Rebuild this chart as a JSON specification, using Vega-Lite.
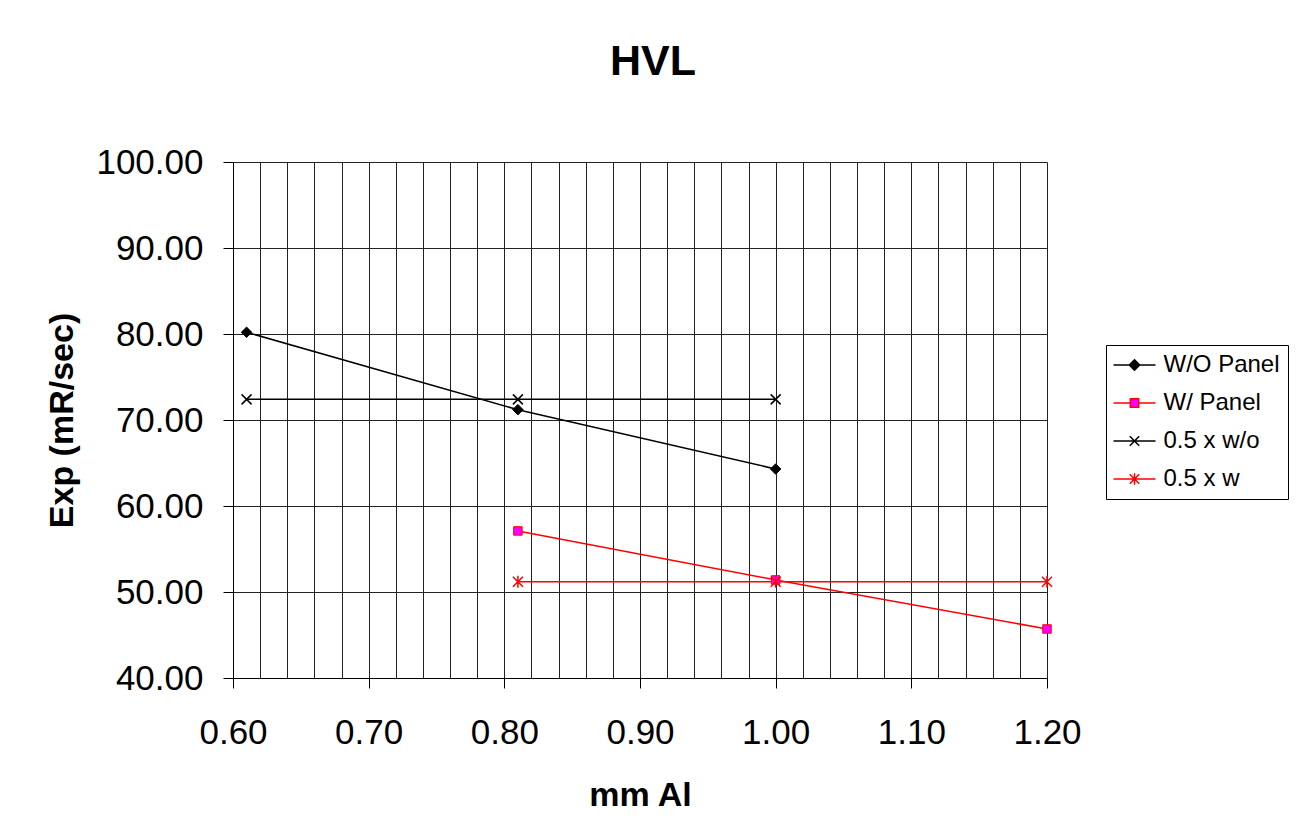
{
  "$schema": "https://vega.github.io/schema/vega-lite/v6.json",
  "autosize": "none",
  "width": 814,
  "height": 516,
  "padding": {"left": 233, "top": 162, "right": 250, "bottom": 158},
  "background": "white",
  "title": {"text": "HVL", "font": "Liberation Sans", "fontSize": 43, "fontWeight": "bold", "color": "black", "anchor": "middle", "frame": "group", "dx": 13, "baseline": "alphabetic", "offset": 27},
  "data": {"values": [
    {"series": "W/O Panel", "x": 0.61, "y": 80.2},
    {"series": "W/O Panel", "x": 0.81, "y": 71.2},
    {"series": "W/O Panel", "x": 1.0, "y": 64.3},
    {"series": "W/ Panel", "x": 0.81, "y": 57.1},
    {"series": "W/ Panel", "x": 1.0, "y": 51.4},
    {"series": "W/ Panel", "x": 1.2, "y": 45.7},
    {"series": "0.5 x w/o", "x": 0.61, "y": 72.4},
    {"series": "0.5 x w/o", "x": 0.81, "y": 72.4},
    {"series": "0.5 x w/o", "x": 1.0, "y": 72.4},
    {"series": "0.5 x w", "x": 0.81, "y": 51.2},
    {"series": "0.5 x w", "x": 1.0, "y": 51.2},
    {"series": "0.5 x w", "x": 1.2, "y": 51.2}
  ]},
  "encoding": {
    "x": {"field": "x", "type": "quantitative",
      "scale": {"domain": [0.6, 1.2], "nice": false, "zero": false},
      "axis": {
        "values": [0.6,0.62,0.64,0.66,0.68,0.7,0.72,0.74,0.76,0.78,0.8,0.82,0.84,0.86,0.88,0.9,0.92,0.94,0.96,0.98,1.0,1.02,1.04,1.06,1.08,1.1,1.12,1.14,1.16,1.18,1.2],
        "labelExpr": "abs(datum.value*10 - round(datum.value*10)) < 0.001 ? format(datum.value, '.2f') : ''",
        "tickOpacity": {"condition": {"test": "abs(datum.value*10 - round(datum.value*10)) < 0.001", "value": 1}, "value": 0},
        "title": "mm Al", "titleY": 127, "titleBaseline": "alphabetic",
        "labelPadding": 27, "labelFlush": false, "labelOverlap": false
      }},
    "y": {"field": "y", "type": "quantitative",
      "scale": {"domain": [40, 100], "nice": false, "zero": false},
      "axis": {"values": [40,50,60,70,80,90,100], "format": ".2f", "title": "Exp (mR/sec)",
        "titleX": -161, "titleBaseline": "alphabetic", "titleAngle": -90, "labelPadding": 20}}
  },
  "layer": [
    {
      "mark": {"type": "line", "strokeWidth": 1.5},
      "encoding": {
        "color": {"field": "series", "type": "nominal",
          "scale": {"domain": ["W/O Panel", "W/ Panel", "0.5 x w/o", "0.5 x w"], "range": ["black", "red", "black", "red"]},
          "legend": {
            "title": null, "orient": "none", "legendX": 873, "legendY": 183,
            "strokeColor": "black", "fillColor": "white", "padding": 8, "cornerRadius": 0,
            "labelFont": "Liberation Sans", "labelFontSize": 24, "labelColor": "black",
            "labelOffset": 17, "symbolOffset": 8.5, "rowPadding": 14, "symbolSize": 441, "symbolStrokeWidth": 1.5,
            "encode": {"symbols": {"update": {
              "shape": {"signal": "datum.value==='W/O Panel' ? 'M-2,0H-0.5M0.5,0H2M-0.5,0L0,-0.5L0.5,0L0,0.5Z' : datum.value==='W/ Panel' ? 'M-2,0H-0.4M0.4,0H2M-0.4,-0.4H0.4V0.4H-0.4Z' : datum.value==='0.5 x w/o' ? 'M-2,0H2M-0.45,-0.45L0.45,0.45M-0.45,0.45L0.45,-0.45' : 'M-2,0H2M-0.45,-0.45L0.45,0.45M-0.45,0.45L0.45,-0.45M0,-0.55V0.55'"},
              "fill": {"signal": "datum.value==='W/O Panel' ? 'black' : datum.value==='W/ Panel' ? '#ff00ff' : 'transparent'"},
              "stroke": {"signal": "datum.value==='W/O Panel' || datum.value==='0.5 x w/o' ? 'black' : 'red'"},
              "strokeWidth": {"value": 1.5},
              "size": {"value": 441},
              "opacity": {"value": 1}
            }}}
          }}
      }
    },
    {
      "transform": [{"filter": "datum.series === 'W/O Panel'"}],
      "mark": {"type": "point", "shape": "diamond", "filled": true, "fill": "black", "stroke": "black", "strokeWidth": 1, "size": 110, "opacity": 1}
    },
    {
      "transform": [{"filter": "datum.series === 'W/ Panel'"}],
      "mark": {"type": "point", "shape": "square", "filled": true, "fill": "#ff00ff", "stroke": "red", "strokeWidth": 1, "size": 72, "opacity": 1}
    },
    {
      "transform": [{"filter": "datum.series === '0.5 x w/o'"}],
      "mark": {"type": "point", "shape": "M-1,-1L1,1M-1,1L1,-1", "filled": false, "stroke": "black", "strokeWidth": 1.5, "size": 100, "opacity": 1}
    },
    {
      "transform": [{"filter": "datum.series === '0.5 x w'"}],
      "mark": {"type": "point", "shape": "M-1,-1L1,1M-1,1L1,-1M0,-1.2L0,1.2", "filled": false, "stroke": "red", "strokeWidth": 1.5, "size": 100, "opacity": 1}
    }
  ],
  "config": {
    "font": "Liberation Sans",
    "view": {"stroke": null},
    "axis": {
      "labelFont": "Liberation Sans", "labelFontSize": 35, "labelColor": "black",
      "titleFont": "Liberation Sans", "titleFontSize": 34, "titleFontWeight": "bold", "titleColor": "black",
      "domainColor": "black", "domainWidth": 1,
      "tickColor": "black", "tickSize": 10, "tickWidth": 1,
      "grid": true, "gridColor": "#222", "gridWidth": 1, "gridOpacity": 1
    }
  }
}
